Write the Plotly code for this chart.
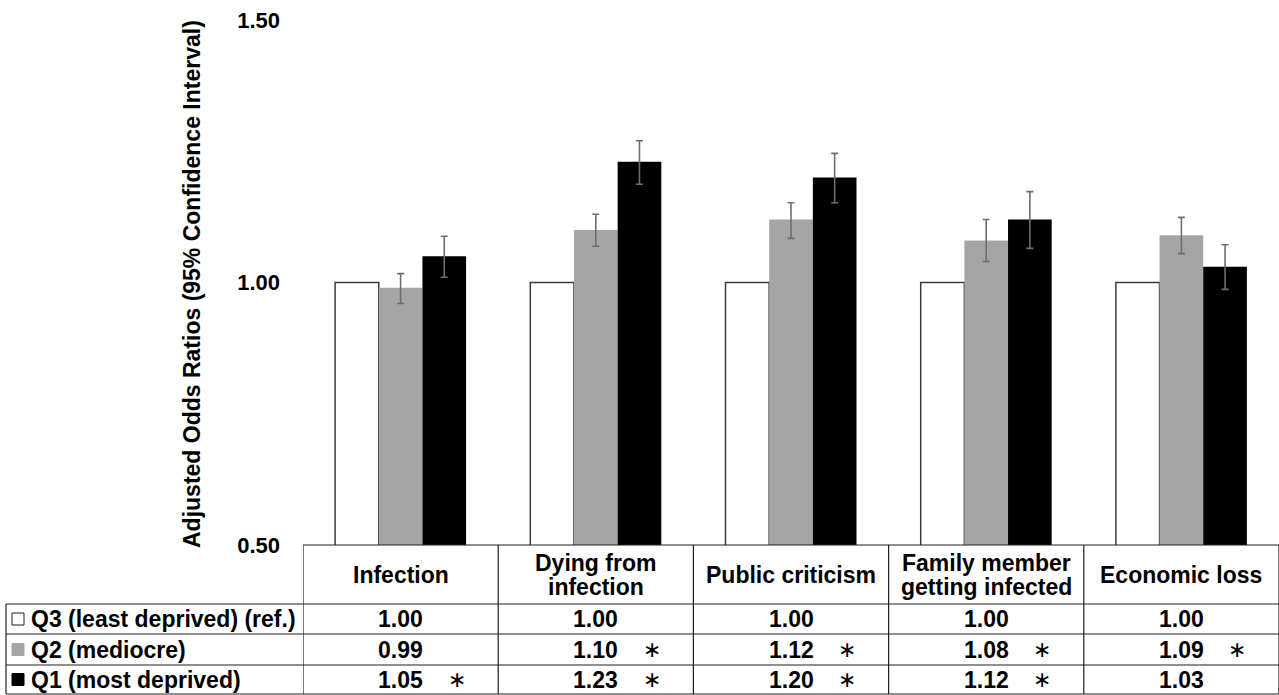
import plotly.graph_objects as go

# ---------------- data ----------------
categories = ["Infection", "Dying from<br>infection", "Public criticism",
              "Family member<br>getting infected", "Economic loss"]
series_names = ["Q3 (least deprived) (ref.)", "Q2 (mediocre)", "Q1 (most deprived)"]
q3_values = [1.00, 1.00, 1.00, 1.00, 1.00]
q2_values = [0.99, 1.10, 1.12, 1.08, 1.09]
q1_values = [1.05, 1.23, 1.20, 1.12, 1.03]
q2_lower = [0.960, 1.069, 1.084, 1.040, 1.055]
q2_upper = [1.017, 1.130, 1.152, 1.120, 1.124]
q1_lower = [1.010, 1.187, 1.152, 1.065, 0.987]
q1_upper = [1.088, 1.270, 1.246, 1.173, 1.072]
q2_sig = [False, True, True, True, True]
q1_sig = [True, True, True, True, False]
y_ticks = [0.50, 1.00, 1.50]
y_title = "Adjusted Odds Ratios (95% Confidence Interval)"

# ---------------- layout constants ----------------
W, H = 1279, 695
FONT = "Liberation Sans, Arial, sans-serif"
PLOT_LEFT, PLOT_TOP, PLOT_BOTTOM = 303, 20, 545
HEADER_BOTTOM = 604
ROW_LINES = [604, 634, 665, 694]
LABEL_LEFT = 6
col_white, col_gray, col_black = "#ffffff", "#a5a5a5", "#000000"
outline = "#3c3c3c"
err_col = "#6e6e6e"


def X(px):
    return px / W


def Y(py):
    return 1 - py / H


x_idx = list(range(len(categories)))

fig = go.Figure()
fig.add_trace(go.Bar(x=x_idx, y=q3_values, name=series_names[0],
                     marker=dict(color=col_white, line=dict(color=outline, width=1.5))))
fig.add_trace(go.Bar(x=x_idx, y=q2_values, name=series_names[1],
                     marker=dict(color=col_gray, line=dict(width=0)),
                     error_y=dict(type="data", symmetric=False,
                                  array=[u - v for u, v in zip(q2_upper, q2_values)],
                                  arrayminus=[v - l for v, l in zip(q2_values, q2_lower)],
                                  color=err_col, thickness=1.6, width=3.5)))
fig.add_trace(go.Bar(x=x_idx, y=q1_values, name=series_names[2],
                     marker=dict(color=col_black, line=dict(width=0)),
                     error_y=dict(type="data", symmetric=False,
                                  array=[u - v for u, v in zip(q1_upper, q1_values)],
                                  arrayminus=[v - l for v, l in zip(q1_values, q1_lower)],
                                  color=err_col, thickness=1.6, width=3.5)))

shapes = []
line = dict(color="#202020", width=1.2)
# header top line (axis baseline) and table horizontal lines
shapes.append(dict(type="line", xref="x", yref="paper", x0=-0.5, x1=len(categories) - 0.5,
                   y0=Y(PLOT_BOTTOM), y1=Y(PLOT_BOTTOM), line=line))
for ry in ROW_LINES:
    shapes.append(dict(type="line", xref="paper", yref="paper", x0=X(LABEL_LEFT), x1=1,
                       y0=Y(ry), y1=Y(ry), line=line))
# vertical dividers
for i in range(len(categories) + 1):
    shapes.append(dict(type="line", xref="x", yref="paper", x0=i - 0.5, x1=i - 0.5,
                       y0=Y(PLOT_BOTTOM), y1=Y(ROW_LINES[-1]), line=line))
shapes.append(dict(type="line", xref="paper", yref="paper", x0=X(LABEL_LEFT), x1=X(LABEL_LEFT),
                   y0=Y(ROW_LINES[0]), y1=Y(ROW_LINES[-1]), line=line))

annotations = []
tfont = dict(family=FONT, size=23, color="#000000", weight="bold")
# header labels
header_mid = (PLOT_BOTTOM + HEADER_BOTTOM) / 2
for i, cat in enumerate(categories):
    lines = cat.split("<br>")
    n = len(lines)
    for k, ln in enumerate(lines):
        cy = header_mid + (k - (n - 1) / 2) * 24
        annotations.append(dict(x=i, y=Y(cy), xref="x", yref="paper", text=ln,
                                showarrow=False, font=tfont, xanchor="center", yanchor="middle"))

# rows
series_vals = [q3_values, q2_values, q1_values]
series_sig = [[False] * len(categories), q2_sig, q1_sig]
sq_colors = [col_white, col_gray, col_black]
sq_lines = ["#202020", col_gray, col_black]
for r in range(3):
    cy = (ROW_LINES[r] + ROW_LINES[r + 1]) / 2
    annotations.append(dict(x=X(LABEL_LEFT + 23), y=Y(cy), xref="paper", yref="paper",
                            text=series_names[r], showarrow=False, font=tfont,
                            xanchor="left", yanchor="middle"))
    shapes.append(dict(type="rect", xref="paper", yref="paper",
                       x0=X(LABEL_LEFT + 6), x1=X(LABEL_LEFT + 18),
                       y0=Y(cy - 6), y1=Y(cy + 6),
                       fillcolor=sq_colors[r], line=dict(color=sq_lines[r], width=1)))
    for i, v in enumerate(series_vals[r]):
        annotations.append(dict(x=i, y=Y(cy), xref="x", yref="paper", text=f"{v:.2f}",
                                showarrow=False, font=tfont, xanchor="center", yanchor="middle"))
        if series_sig[r][i]:
            annotations.append(dict(x=i, y=Y(cy), xref="x", yref="paper", text="∗",
                                    xshift=56, showarrow=False,
                                    font=dict(family="DejaVu Sans", size=22, color="#000000"),
                                    xanchor="center", yanchor="middle"))

# y-axis title
annotations.append(dict(x=X(192), y=Y(284), xref="paper", yref="paper", text=y_title,
                        textangle=-90, showarrow=False, font=tfont,
                        xanchor="center", yanchor="middle"))

fig.update_layout(
    width=W, height=H,
    margin=dict(l=0, r=0, t=0, b=0, pad=0),
    paper_bgcolor="white", plot_bgcolor="white",
    barmode="group", bargap=0.329, bargroupgap=0,
    showlegend=False,
    xaxis=dict(domain=[X(PLOT_LEFT), 1], range=[-0.5, len(categories) - 0.5],
               showticklabels=False, showgrid=False, zeroline=False, showline=False,
               automargin=False, fixedrange=True),
    yaxis=dict(domain=[Y(PLOT_BOTTOM), Y(PLOT_TOP)], range=[0.5, 1.5],
               tickvals=y_ticks, tickformat=".2f", showgrid=False, zeroline=False,
               showline=False, ticks="", ticklabelstandoff=22, automargin=False,
               tickfont=dict(family=FONT, size=22, color="#000000", weight="bold"),
               fixedrange=True),
    shapes=shapes, annotations=annotations,
)

fig.write_html("out.html", config={"displayModeBar": False},
               post_script="document.body.style.margin='0';document.body.style.overflow='hidden';")
